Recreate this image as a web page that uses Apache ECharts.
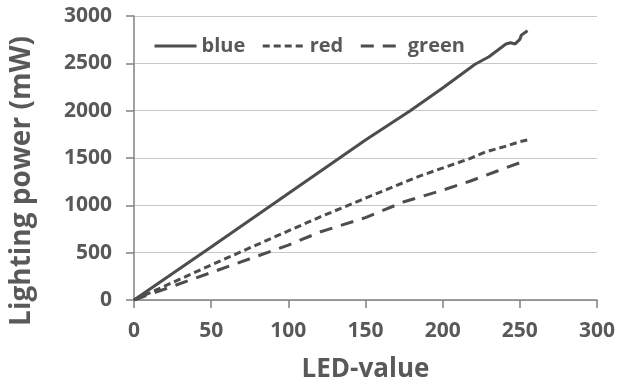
<!DOCTYPE html>
<html><head><meta charset="utf-8">
<script src="https://cdn.jsdelivr.net/npm/echarts@6/dist/echarts.min.js"></script>
<style>html,body{margin:0;padding:0;background:#fff}#c{width:618px;height:392px}</style>
</head><body><div id="c"></div>
<script>
const seriesNames = ['blue', 'red', 'green'];
const blueX = [0, 50, 100, 150, 179, 200, 221, 230, 241, 244, 247, 250, 251, 255];
const blueY = [0, 560, 1125, 1690, 2000, 2240, 2490, 2570, 2705, 2717, 2705, 2753, 2798, 2844];
const redX = [0, 50, 100, 121, 147, 185, 218, 228, 240, 250, 255];
const redY = [0, 370, 730, 880, 1056, 1309, 1496, 1566, 1620, 1672, 1690];
const greenX = [0, 50, 100, 121, 150, 175, 200, 218, 235, 252];
const greenY = [0, 290, 580, 721, 870, 1038, 1160, 1257, 1360, 1462];
const xTicks = [0, 50, 100, 150, 200, 250, 300];
const yTicks = [0, 500, 1000, 1500, 2000, 2500, 3000];

const pair = (xs, ys) => xs.map((x, i) => [x, ys[i]]);
const col = '#4d4d4d';
const txt = '#595959';
const font = 'Open Sans';

const chart = echarts.init(document.getElementById('c'));
chart.setOption({
  animation: false,
  grid: { left: 132, right: 20, top: 16, bottom: 92 },
  legend: {
    left: 148, top: 31, itemWidth: 42, itemHeight: 14, itemGap: 16,
    itemStyle: { opacity: 0 },
    lineStyle: { width: 3 },
    textStyle: { color: txt, fontSize: 20, fontWeight: 'bold', fontFamily: font },
    data: seriesNames
  },
  xAxis: {
    type: 'value', min: xTicks[0], max: xTicks[xTicks.length - 1], interval: 50,
    name: 'LED-value', nameLocation: 'middle', nameGap: 57,
    nameTextStyle: { color: txt, fontSize: 26, fontWeight: 'bold', fontFamily: font },
    axisLine: { lineStyle: { color: '#808080', width: 1.5 } },
    axisTick: { show: true, length: 8, lineStyle: { color: '#808080', width: 1.5 } },
    axisLabel: { color: txt, fontSize: 21, fontWeight: 'bold', fontFamily: font, margin: 21 },
    splitLine: { show: false }
  },
  yAxis: {
    type: 'value', min: yTicks[0], max: yTicks[yTicks.length - 1], interval: 500,
    name: 'Lighting power (mW)', nameLocation: 'middle', nameGap: 98,
    nameTextStyle: { color: txt, fontSize: 28, fontWeight: 'bold', fontFamily: font, padding: [0, 46, 0, 0] },
    axisLine: { show: true, lineStyle: { color: '#808080', width: 1.5 } },
    axisTick: { show: true, length: 8, lineStyle: { color: '#808080', width: 1.5 } },
    axisLabel: { color: txt, fontSize: 21, fontWeight: 'bold', fontFamily: font, margin: 22,
      formatter: v => String(v) },
    splitLine: { lineStyle: { color: '#c8c8c8', width: 1 } }
  },
  series: [
    { name: seriesNames[0], type: 'line', symbol: 'none', data: pair(blueX, blueY),
      lineStyle: { color: col, width: 3, type: 'solid' }, itemStyle: { color: col } },
    { name: seriesNames[1], type: 'line', symbol: 'none', data: pair(redX, redY),
      lineStyle: { color: col, width: 3, type: [7, 4] }, itemStyle: { color: col } },
    { name: seriesNames[2], type: 'line', symbol: 'none', data: pair(greenX, greenY),
      lineStyle: { color: col, width: 3, type: [13, 9] }, itemStyle: { color: col } }
  ]
});
</script></body></html>
